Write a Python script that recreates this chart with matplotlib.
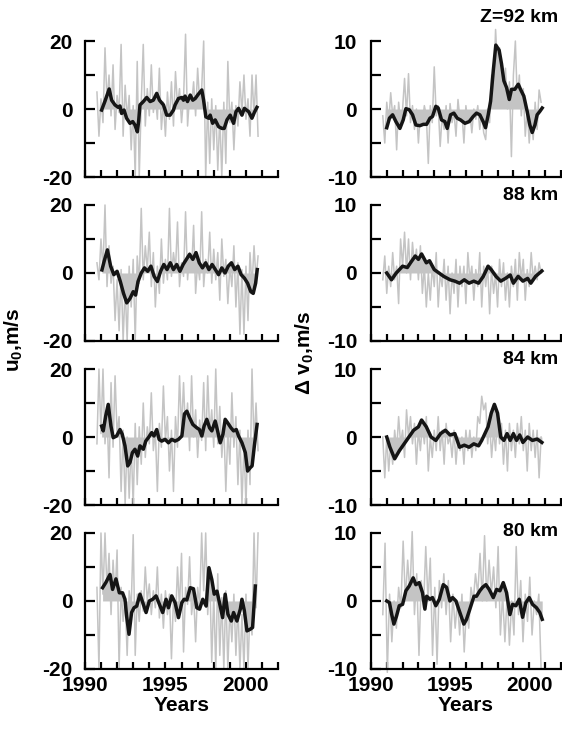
import numpy as np
import matplotlib.pyplot as plt

plt.rcParams['font.family'] = ['Liberation Sans', 'DejaVu Sans']
plt.rcParams['font.weight'] = 'bold'
plt.rcParams['axes.unicode_minus'] = False
plt.rcParams['mathtext.fontset'] = 'custom'
plt.rcParams['mathtext.rm'] = 'Liberation Sans'
plt.rcParams['mathtext.bf'] = 'Liberation Sans:bold'

## DATA ------------------------------------------------
# raw (monthly-ish) values, evenly spaced from 1990.75 to 2000.75
u92_raw = [5, -8, 3, -4, 18, 2, 10, -2, 13, -6, 4, -1, 19, -8, 7, -3, 4, -12, 1, -20,
           14, -20, 2, 19, -5, 6, -2, 13, -1, 4, -3, 12, -6, 2, -8, 5, -3, 8, -5, 11,
           1, 6, -4, 3, 22, -5, 4, 1, 8, -2, 12, 2, 6, 20, -20, 2, -16, 3, -12, 1,
           -18, -2, -20, 2, -16, 14, -4, 2, -12, 1, -5, 8, -1, 10, -3, 3, -8, 10, -2, 10, -8]
u88_raw = [3, -2, 10, 1, 20, -4, 8, -3, 2, -14, -2, -17, 1, -20, -4, -20, 2, -10, 4, -20,
           5, -3, 19, -2, 8, 1, 12, -4, 6, -10, 2, -6, 10, -3, 4, -2, 19, -1, 6, 1,
           15, -4, 3, -1, 18, -2, 6, 1, 14, -6, 3, -2, 18, -4, 4, 0, 12, -3, 7, -2,
           6, -8, 10, -1, 4, -9, 2, -4, 8, -10, 3, -18, 1, -18, 2, -14, 6, -4, 8, -2, 5]
u84_raw = [-2, 20, 1, 20, -2, 8, -12, 16, -3, 18, 1, 6, -16, 2, -20, 0, -18, -2, -20, 4,
           -14, 3, -8, 10, -6, 3, -2, 13, -4, 2, -16, 4, -3, 15, -1, 6, -10, 2, -16, 6,
           -3, 18, 2, 16, 1, 10, -4, 18, 0, 8, -6, 5, -1, 16, -4, 18, 1, 8, -3, 20,
           -2, 9, -6, 4, -16, 2, -8, 13, -3, 6, -14, 2, -20, -2, -20, 2, -14, 20, -2, 10, -4]
u80_raw = [4, -20, 20, 2, 20, 3, 14, -4, 12, 1, 15, -20, 4, -6, 1, -16, 3, -2, 19.5, -16,
           2, -6, 3, -3, 10, 0, 5, -4, 3, -2, 10, -5, 2, -8, 3, -4, 2, -17, 1, -6,
           10, -2, 14, -15, 4, -1, 13, -4, 2, -12, 4, -1, 20, 3, 20, -4, 8, -18, 2, -20,
           8, -16, 1, -20, 3, -20, -2, -12, 2, -16, -1, -20, -4, -20, 2, -20, -2, -10, 20, -2, 20]

v92_raw = [-1, -5, 1, -2, 2.4, -1, 0.5, -6, 1, -2, 0, 4.5, -1, 5.2, -2, 0.5, -3, 0, -5, -0.5,
           -2, 0.5, -1, -8, 0.5, -2, 6.2, -1, 0.5, -5.5, -1, -3, 0.5, -5, 0.8, -2, -0.5, -4, 1.4, -1.5,
           -0.5, -5, 0.5, -2, -0.5, -3.5, 0, -1.5, 0.5, -3, -0.5, -3.5, -4.5, 0, -2, 5, 3, 11.7, 6, 9,
           6.5, 1, 6, 0, 4, -7, 5, 10, 1, 5, -1, 3, -4, 0, -5, -1, -4.5, 1, -3, 2.8, 1]
v88_raw = [-1, 2.5, -3, 1, -2, 3, -1, 1, -4.5, 5, 1, 6, 0, 5, -1, 4.5, 1, 3.5, -1, 4,
           -3, 1, -5, 0, -4, 1, -2, 3, -5, 0, -2, 2, -4, 1, -6, 0, -3, 2, -5, 1,
           -2, 1, -4.5, 3, -1, 1, -4, 0.5, -2, 3, -5, 1, -2, 1, -6, 1, -3, 0, -5, 2,
           -2, 1.5, -4, 0, -5, 1, -2, 2, -4, 3, -1, 2, -4, 0.5, -2, 3, -1, 1, -1, 1.5, 0]
v84_raw = [0, -6, 0, -5, -1, -4, 1, -2, 3, -1, 1, -3, 4, 0, 3, -1, 2, -4, 1, -2,
           2, -1, 3, -5, 0, -3, 1, -2, 3, -2, 1, -4, 2, -1, 0, -3, 1, -4, 0, -2,
           0, -4, 1, -2, 1, -3, 0, -2, 3, 2, 6, 4, 5, -1, 2, -3, 1, -2, 3, -1,
           2, -4, 1, -5, 2, -2, 1, -3, 2, -1, 3, -2, 1, -5, 2, -2, 1, -3, 1, -6, 0]
v80_raw = [-2, 8.5, -10.5, 1, -6, 0, -4, 2, -1, 8.8, 0, 6, 1, 10.2, -2, 4, -8, 3, -1, 8,
           0, 6.3, -8, 2, -9.3, 3, -1, 4, -2, 3, -6, 1, -4, 0, -5, 1, -7.5, -1, -4, 2,
           0, 4, 1, 7, 0, 9.6, 0, 6, 1, 5, -1, 8, -5, 1, -6, 1, -6.5, 0, -5, 8,
           -2, 3, -6, 1, -3, 3.5, -5, 0, -2, 1, -10]

# smoothed curves (year, value)
u92_yr = [1991.04, 1991.24, 1991.51, 1991.66, 1991.87, 1992.07, 1992.18, 1992.28, 1992.43, 1992.59,
          1992.80, 1992.97, 1993.11, 1993.26, 1993.34, 1993.42, 1993.63, 1993.84, 1994.05, 1994.25,
          1994.46, 1994.63, 1994.88, 1995.08, 1995.29, 1995.50, 1995.60, 1995.81, 1996.02, 1996.12,
          1996.22, 1996.37, 1996.54, 1996.70, 1996.85, 1997.05, 1997.26, 1997.37, 1997.51, 1997.68,
          1997.78, 1997.93, 1998.09, 1998.30, 1998.51, 1998.65, 1998.82, 1999.02, 1999.23, 1999.38,
          1999.54, 1999.75, 1999.90, 2000.17, 2000.37, 2000.52, 2000.68]
u92_sm = [-0.3, 2.2, 5.9, 2.6, 1.2, 0.5, 0.9, -1.3, -0.3, -2.7,
          -4.2, -3.7, -4.7, -6.7, -3.5, 1.2, 2.2, 3.4, 2.2, 2.6,
          4.6, 2.6, 1.2, -1.8, -1.8, -0.3, 1.2, 3.1, 3.4, 2.6,
          3.8, 2.2, 4.1, 2.6, 3.1, 4.4, 5.6, 2.6, -2.3, -2.7,
          -1.8, -4.2, -3.2, -5.2, -5.7, -5.7, -3.2, -1.8, -4.2, -0.8,
          0.2, -1.8, 0.2, -0.8, -2.7, -1.0, 0.5]

u88_yr = [1991.06, 1991.2, 1991.4, 1991.6, 1991.8, 1992.0, 1992.2, 1992.4, 1992.6, 1992.8,
          1993.0, 1993.15, 1993.3, 1993.5, 1993.7, 1993.9, 1994.1, 1994.3, 1994.5, 1994.7,
          1994.9, 1995.1, 1995.3, 1995.5, 1995.7, 1995.9, 1996.1, 1996.3, 1996.5, 1996.7,
          1996.9, 1997.1, 1997.3, 1997.5, 1997.7, 1997.9, 1998.1, 1998.3, 1998.5, 1998.7,
          1998.9, 1999.1, 1999.3, 1999.5, 1999.7, 1999.9, 2000.1, 2000.3, 2000.45, 2000.6, 2000.7]
u88_sm = [0.9, 3.5, 6.8, 2.0, -0.5, 0.5, -2.5, -6.0, -8.8, -7.5,
          -5.5, -6.5, -2.5, 0.0, 1.5, 0.5, 2.0, -1.0, -2.5, 0.5,
          2.5, 1.0, 3.0, 1.0, 2.5, 0.5, 2.5, 4.0, 5.5, 4.0,
          6.0, 3.0, 1.5, 3.0, 1.0, 2.5, 1.0, -0.5, 1.5, 0.0,
          2.0, 3.0, 1.0, 2.0, -0.5, -1.5, -3.0, -5.5, -6.0, -3.0, 1.0]

u84_yr = [1991.04, 1991.14, 1991.29, 1991.45, 1991.62, 1991.76, 1991.97, 1992.18, 1992.32, 1992.49,
          1992.66, 1992.80, 1992.95, 1993.11, 1993.28, 1993.42, 1993.63, 1993.78, 1993.94, 1994.15,
          1994.29, 1994.46, 1994.61, 1994.77, 1994.98, 1995.19, 1995.39, 1995.60, 1995.81, 1996.02,
          1996.18, 1996.33, 1996.50, 1996.70, 1996.95, 1997.11, 1997.26, 1997.40, 1997.57, 1997.74,
          1997.88, 1998.09, 1998.24, 1998.40, 1998.57, 1998.71, 1998.86, 1999.07, 1999.23, 1999.40,
          1999.54, 1999.75, 1999.96, 2000.10, 2000.27, 2000.38, 2000.52, 2000.69]
u84_sm = [3.2, 1.8, 6.1, 9.6, 3.2, -0.2, 0.3, 2.2, 0.8, -2.6,
          -8.5, -7.5, -4.6, -3.6, -5.6, -2.6, -3.6, -1.2, -0.2, 1.3,
          0.3, 2.2, -0.7, -1.2, -0.7, -1.7, -0.7, -1.2, -0.7, 0.3,
          6.8, 7.6, 5.7, 3.7, 2.7, 2.2, 0.3, 3.2, 5.2, 2.7,
          1.8, 4.7, 1.8, -1.7, 0.8, 5.2, 4.2, 2.7, 1.8, 2.2,
          0.3, -1.7, -4.6, -10.0, -9.0, -8.5, -2.6, 3.7]

u80_yr = [1991.10, 1991.30, 1991.56, 1991.72, 1991.93, 1992.14, 1992.34, 1992.49, 1992.59, 1992.74,
          1992.90, 1993.05, 1993.22, 1993.42, 1993.63, 1993.80, 1994.00, 1994.21, 1994.42, 1994.63,
          1994.83, 1995.04, 1995.19, 1995.39, 1995.60, 1995.81, 1996.02, 1996.16, 1996.33, 1996.54,
          1996.74, 1996.95, 1997.12, 1997.32, 1997.53, 1997.70, 1997.88, 1998.03, 1998.20, 1998.40,
          1998.55, 1998.71, 1998.88, 1999.09, 1999.23, 1999.44, 1999.65, 1999.75, 1999.90, 2000.06,
          2000.27, 2000.41, 2000.58]
u80_sm = [3.9, 5.4, 7.8, 3.4, 6.5, 2.4, 2.4, 0.5, -4.4, -9.8,
          -3.4, -2.0, -1.5, 2.0, -1.0, -3.4, 0.0, 0.5, 1.5, -1.0,
          -3.4, 0.5, -2.0, 1.5, -0.5, -4.9, -0.5, 0.5, 0.3, 3.9,
          3.6, -2.0, -2.4, 0.5, -1.5, 9.8, 6.3, 2.0, 2.9, -1.5,
          -4.9, 2.0, -3.9, -5.9, -3.4, -5.9, -2.4, 0.5, -2.9, -8.8,
          -8.3, -7.8, 4.4]

v92_yr = [1991.00, 1991.17, 1991.37, 1991.58, 1991.83, 1992.04, 1992.21, 1992.42, 1992.63, 1992.84,
          1993.09, 1993.31, 1993.52, 1993.73, 1993.89, 1994.10, 1994.25, 1994.46, 1994.67, 1994.82,
          1995.03, 1995.24, 1995.45, 1995.66, 1995.94, 1996.21, 1996.46, 1996.67, 1996.88, 1997.09,
          1997.24, 1997.41, 1997.56, 1997.73, 1997.89, 1998.10, 1998.25, 1998.40, 1998.57, 1998.74,
          1998.88, 1999.09, 1999.31, 1999.45, 1999.66, 1999.87, 2000.04, 2000.19, 2000.36, 2000.50,
          2000.67, 2000.82]
v92_sm = [-2.75, -1.35, -0.85, -1.85, -2.85, -1.6, 0.05, -0.1, -0.85, -2.35,
          -2.45, -2.25, -2.25, -1.35, -1.1, 0.4, 0.15, -1.6, -1.85, -2.85,
          -0.85, -0.6, -1.35, -1.6, -2.1, -1.85, -1.1, -0.6, -0.85, -1.85,
          -2.75, -0.85, 1.15, 5.65, 9.4, 8.65, 6.65, 4.15, 3.15, 1.4,
          2.9, 2.9, 3.65, 2.9, 1.9, -0.35, -2.35, -3.45, -2.35, -0.85,
          -0.35, 0.15]

v88_yr = [1991.0, 1991.3, 1991.6, 1992.0, 1992.3, 1992.5, 1992.8, 1993.0, 1993.2, 1993.5,
          1993.7, 1994.0, 1994.3, 1994.6, 1995.0, 1995.3, 1995.6, 1995.9, 1996.2, 1996.5,
          1996.8, 1997.1, 1997.4, 1997.6, 1997.9, 1998.2, 1998.5, 1998.8, 1999.0, 1999.3,
          1999.6, 1999.9, 2000.1, 2000.4, 2000.8]
v88_sm = [0.0, -1.0, 0.0, 1.0, 0.8, 1.5, 2.5, 2.0, 2.8, 1.5,
          1.8, 0.5, 0.0, -0.5, -1.0, -1.2, -1.5, -1.0, -1.5, -1.2,
          -1.5, -0.5, 1.0, 0.5, -0.5, -1.2, -0.8, -0.3, -1.5, -0.5,
          -1.2, -0.8, -1.5, -0.5, 0.3]

v84_yr = [1991.0, 1991.2, 1991.5, 1991.8, 1992.1, 1992.4, 1992.7, 1993.0, 1993.2, 1993.5,
          1993.8, 1994.1, 1994.4, 1994.7, 1995.0, 1995.3, 1995.6, 1995.9, 1996.2, 1996.5,
          1996.8, 1997.0, 1997.2, 1997.4, 1997.6, 1997.8, 1998.0, 1998.2, 1998.4, 1998.6,
          1998.8, 1999.0, 1999.2, 1999.4, 1999.6, 1999.9, 2000.2, 2000.5, 2000.8]
v84_sm = [0.0, -1.5, -3.2, -2.0, -1.0, 0.0, 1.0, 1.5, 2.5, 1.5,
          0.0, -0.5, 0.5, 1.0, 0.3, 0.5, -1.5, -1.2, -1.5, -1.0,
          -1.3, -0.5, 0.5, 1.5, 3.5, 4.8, 3.5, 0.0, -0.5, 0.5,
          -0.5, 0.5, -0.5, 0.3, -0.8, 0.0, -0.5, -0.3, -0.8]

v80_yr = [1991.00, 1991.17, 1991.31, 1991.45, 1991.62, 1991.79, 1992.00, 1992.21, 1992.42, 1992.67,
          1992.84, 1993.05, 1993.26, 1993.41, 1993.52, 1993.73, 1993.89, 1994.10, 1994.32, 1994.57,
          1994.78, 1994.99, 1995.16, 1995.37, 1995.62, 1995.87, 1996.04, 1996.25, 1996.51, 1996.67,
          1996.88, 1997.05, 1997.26, 1997.47, 1997.73, 1997.94, 1998.15, 1998.36, 1998.57, 1998.78,
          1998.95, 1999.16, 1999.37, 1999.58, 1999.79, 2000.00, 2000.21, 2000.46, 2000.67, 2000.82]
v80_sm = [0.0, -0.25, -1.95, -3.4, -2.2, -0.7, -0.5, 1.5, 2.2, 3.4,
          2.4, 2.7, 1.2, -1.2, 0.7, 0.25, 0.5, -0.7, 0.25, 2.4,
          2.0, 0.0, 0.5, 0.0, -1.7, -3.4, -2.7, -1.2, 0.7, 0.7,
          1.5, 2.0, 2.4, 1.7, 0.5, 1.7, 1.5, 2.7, 1.2, -2.0,
          -0.5, -0.7, 0.25, -2.4, -0.25, 0.5, -0.5, -1.0, -1.7, -2.7]

heights = ['Z=92 km', '88 km', '84 km', '80 km']

## PLOT ------------------------------------------------
gray = '#c4c4c4'
left_panels = [(u92_raw, u92_yr, u92_sm), (u88_raw, u88_yr, u88_sm),
               (u84_raw, u84_yr, u84_sm), (u80_raw, u80_yr, u80_sm)]
right_panels = [(v92_raw, v92_yr, v92_sm), (v88_raw, v88_yr, v88_sm),
                (v84_raw, v84_yr, v84_sm), (v80_raw, v80_yr, v80_sm)]

fig = plt.figure(figsize=(5.62, 7.30), dpi=100)
bottoms = [0.7575, 0.5329, 0.3082, 0.0836]
h = 0.1863

def draw(ax, raw, yr, sm, lim, pad, last):
    raw_yr = np.linspace(1990.75, 2000.75, len(raw))
    ax.fill_between(yr, sm, 0, color=gray, lw=0)
    ax.plot(raw_yr, raw, color=gray, lw=1.1, clip_on=False)
    ax.plot(yr, sm, color='#151515', lw=2.5, solid_joinstyle='round')
    ax.set_xlim(1990, 2002)
    ax.set_ylim(-lim, lim)
    for s in ['top', 'right']:
        ax.spines[s].set_visible(False)
    for s in ['left', 'bottom']:
        ax.spines[s].set_linewidth(1.6)
    ax.set_yticks([-lim, 0, lim])
    ax.set_yticks([-lim / 2, lim / 2], minor=True)
    ax.tick_params(axis='y', which='both', direction='in', length=7, width=1.6,
                   labelsize=15, pad=pad)
    ax.set_xticks(range(1990, 2003))
    ax.tick_params(axis='x', direction='in', length=5, width=1.6, labelsize=15, pad=5)
    if last:
        ax.set_xticklabels([str(y) if y in (1990, 1995, 2000) else '' for y in range(1990, 2003)])
        ax.set_xlabel('Years', fontsize=15, fontweight='bold', labelpad=1)
    else:
        ax.set_xticklabels([])

for i in range(4):
    axl = fig.add_axes([0.151, bottoms[i], 0.344, h])
    draw(axl, *left_panels[i], 20, 9, i == 3)
    axr = fig.add_axes([0.660, bottoms[i], 0.338, h])
    draw(axr, *right_panels[i], 10, 10, i == 3)

label_y = [18, 195, 360, 532]
for txt, yy in zip(heights, label_y):
    fig.text(558 / 562, 1 - yy / 730, txt, ha='right', va='center', fontsize=14, fontweight='bold')

fig.text(14 / 562, 1 - 340 / 730, r'$\mathbf{u_0{,}m/s}$', rotation=90, ha='center', va='center', fontsize=15)
fig.text(305 / 562, 1 - 353 / 730, r'$\mathrm{\Delta}$ $\mathbf{v_0{,}m/s}$', rotation=90,
         ha='center', va='center', fontsize=15)

fig.savefig('out.png', dpi=100)
